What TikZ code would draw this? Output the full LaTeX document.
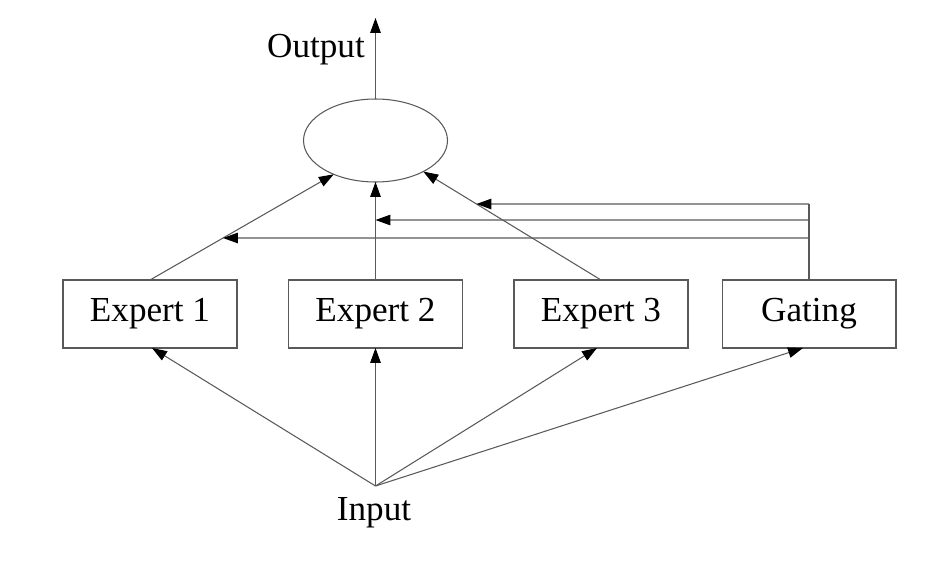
\documentclass[tikz,border=0pt]{standalone}
\usepackage{fontspec}
\setmainfont{Liberation Serif}
\usetikzlibrary{arrows.meta,calc,shapes.geometric,intersections}
\begin{document}
\begin{tikzpicture}[x=0.02cm,y=-0.02cm,
  ln/.style={draw=black!65, line width=0.6pt},
  arr/.style={ln,-{Triangle[length=8.5pt,width=6pt,color=black]}},
  box/.style={draw=black!65, line width=0.6pt, minimum width=3.48cm, minimum height=1.36cm, inner sep=0pt, outer sep=0pt, font=\fontsize{20}{24}\selectfont},
  lbl/.style={font=\fontsize{20}{24}\selectfont, inner sep=0pt}]
\useasboundingbox (0,0) rectangle (939,561);
\node[box] (e1) at (150,314) {Expert 1};
\node[box] (e2) at (375.5,314) {Expert 2};
\node[box] (e3) at (601,314) {Expert 3};
\node[box] (g) at (809,314) {Gating};
\node[ellipse, draw=black!65, line width=0.6pt, minimum width=2.88cm, minimum height=1.66cm, inner sep=0pt, outer sep=0pt] (ell) at (375.5,140.5) {};
\coordinate (out) at (375.5,18);
\node[lbl] (outl) at (316,50) {Output};
\coordinate (in) at (375.5,486);
\node[lbl] (inl) at (374,513) {Input};
\coordinate (g1) at (809,204);
\coordinate (g2) at (809,220);
\coordinate (g3) at (809,238);
% output
\draw[arr] (ell.north) -- (out);
% experts to combiner
\draw[arr, name path=p1] (e1.north) -- (ell.219);
\draw[arr, name path=p2] (e2.north) -- (ell.south);
\draw[arr, name path=p3] (e3.north) -- (ell.-33);
% gating
\draw[ln] (g.north) -- (g1);
\path[name path=h1] (g1) -- (0,204);
\path[name path=h2] (g2) -- (0,220);
\path[name path=h3] (g3) -- (0,238);
\draw[arr, name intersections={of=p3 and h1, by=x1}] (g1) -- (x1);
\draw[arr, name intersections={of=p2 and h2, by=x2}] (g2) -- (x2);
\draw[arr, name intersections={of=p1 and h3, by=x3}] (g3) -- (x3);
% input
\draw[arr] (in) -- ($(e1.south)+(2,0)$);
\draw[arr] (in) -- (e2.south);
\draw[arr] (in) -- ($(e3.south)+(-4,0)$);
\draw[arr] (in) -- ($(g.south)+(-6,0)$);
\end{tikzpicture}
\end{document}
